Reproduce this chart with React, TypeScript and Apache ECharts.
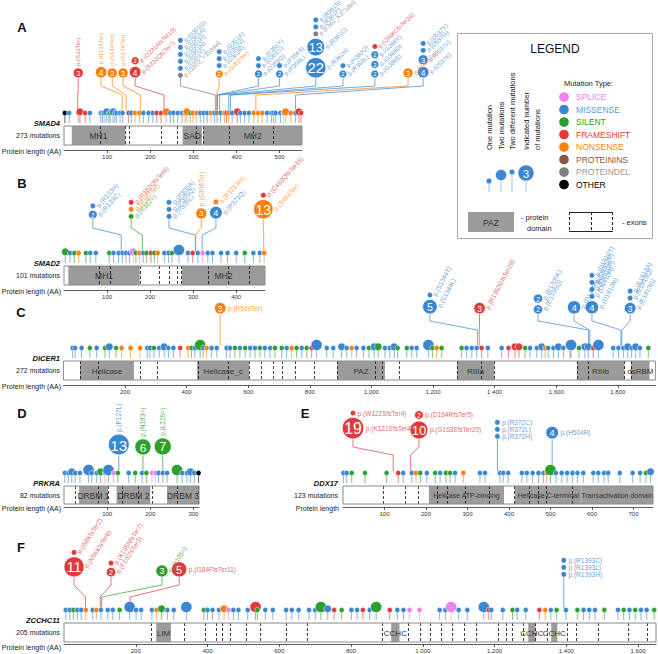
import React, { useEffect, useRef } from "react";
import * as echarts from "echarts";

type Mut = [number, number, number]; // position (AA), type index, count
type HotItem = [number, number, string]; // type index, count, label
type Hot = { target: number; items: HotItem[] };
type Dom = [string, number, number];

const TYPE_NAMES = ["SPLICE", "MISSENSE", "SILENT", "FRAMESHIFT", "NONSENSE", "PROTEININS", "PROTEINDEL", "OTHER"];
const TYPE_COLORS = ["#ee82ee", "#3a86d0", "#2ca02c", "#e03a3e", "#ff7f0e", "#8c564b", "#7f7f7f", "#000000"];
const LEGEND_TEXT_COLORS = ["#ee82ee", "#5d9bd8", "#2ca02c", "#e03a3e", "#ff7f0e", "#8c564b", "#9a9a9a", "#000000"];

// ---------- A: SMAD4 ----------
const smad4Length = 552;
const smad4Count = 273;
const smad4Domains: Dom[] = [["MH1", 18, 142], ["SAD", 275, 320], ["MH2", 323, 552]];
const smad4Exons = [84, 142, 151, 226, 263, 306, 322, 382, 439, 485];
const smad4Row: Mut[] = [
  [2, 7, 1], [12, 1, 1], [33, 6, 1], [37, 3, 2], [49, 3, 1], [60, 1, 1], [85, 1, 1], [89, 1, 1], [93, 1, 1], [99, 1, 2],
  [104, 1, 1], [107, 2, 1], [114, 1, 2], [118, 1, 1], [122, 1, 1], [130, 1, 1], [136, 1, 1], [150, 5, 1], [156, 1, 1],
  [165, 4, 1], [175, 4, 1], [184, 1, 1], [196, 1, 1], [206, 1, 1], [215, 3, 1], [225, 3, 1], [237, 4, 2], [247, 1, 1],
  [254, 1, 1], [264, 1, 1], [274, 1, 1], [281, 4, 1], [285, 4, 2], [293, 2, 1], [299, 4, 1], [308, 4, 1], [316, 1, 1],
  [324, 1, 1], [332, 1, 1], [341, 4, 1], [349, 1, 1], [355, 6, 1], [363, 1, 1], [372, 4, 1], [377, 3, 1], [382, 4, 1],
  [390, 1, 1], [402, 3, 2], [409, 1, 1], [419, 1, 1], [429, 1, 1], [440, 4, 1], [450, 4, 1], [460, 4, 1], [471, 1, 1],
  [481, 1, 1], [486, 1, 1], [491, 1, 1], [502, 1, 1], [509, 0, 1], [514, 4, 2], [526, 4, 1], [537, 1, 1], [545, 3, 2], [550, 3, 1],
];
const smad4Hot: Hot[] = [
  { target: 32, items: [[3, 3, "p.(S32Ter)"]] },
  { target: 135, items: [[4, 4, "p.(R135Ter)"]] },
  { target: 144, items: [[4, 3, "p.(S144Ter)"]] },
  { target: 178, items: [[4, 3, "p.(S178Ter)"]] },
  { target: 232, items: [[3, 2, "p.(G231AfsTer10)"], [3, 4, "p.(S232QfsTer7)"]] },
  { target: 351, items: [[1, 1, "p.(D351G)"], [1, 1, "p.(D351A)"], [1, 1, "p.(D351H)"], [1, 1, "p.(D351N)"], [1, 1, "p.(D351Y)"], [6, 1, "p.(G352_Y353del)"]] },
  { target: 353, items: [[1, 1, "p.(G352A)"], [1, 1, "p.(G352V)"], [1, 1, "p.(G352R)"], [4, 2, "p.(G352Ter)"]] },
  { target: 355, items: [[1, 1, "p.(D355Y)"], [1, 1, "p.(D355V)"], [1, 2, "p.(D355G)"]] },
  { target: 356, items: [[1, 1, "p.(P356S)"], [1, 2, "p.(P356L)"]] },
  { target: 361, items: [[1, 1, "p.(R361S)"], [1, 1, "p.(R361P)"], [6, 1, "p.(F362_K371del)"], [1, 13, "p.(R361C)"], [1, 22, "p.(R361H)"]] },
  { target: 382, items: [[1, 1, "p.(H382Q)"], [1, 2, "p.(R382L)"]] },
  { target: 386, items: [[3, 1, "p.(Q386CfsTer28)"], [1, 2, "p.(G386V)"], [1, 2, "p.(G386D)"], [1, 2, "p.(G386S)"]] },
  { target: 445, items: [[4, 3, "p.(R445Ter)"]] },
  { target: 537, items: [[1, 1, "p.(D537Y)"], [1, 1, "p.(D537G)"], [1, 3, "p.(D537V)"], [1, 4, "p.(D537E)"]] },
];

// ---------- B: SMAD2 ----------
const smad2Length = 467;
const smad2Count = 101;
const smad2Domains: Dom[] = [["MH1", 10, 176], ["MH2", 274, 467]];
const smad2Exons = [82, 108, 177, 221, 245, 263, 271, 334, 381, 430];
const smad2Row: Mut[] = [
  [3, 2, 2], [14, 1, 1], [24, 2, 1], [34, 4, 1], [51, 2, 1], [61, 1, 1], [74, 1, 1], [105, 2, 1], [115, 1, 1], [127, 1, 1],
  [136, 1, 1], [144, 1, 1], [152, 1, 1], [161, 0, 2], [167, 2, 1], [175, 4, 1], [184, 1, 1], [192, 2, 1], [202, 3, 1],
  [210, 2, 1], [218, 4, 1], [233, 1, 1], [243, 1, 1], [251, 2, 1], [267, 1, 3], [288, 1, 1], [299, 3, 1], [311, 1, 1],
  [322, 0, 1], [334, 1, 1], [345, 1, 1], [365, 1, 1], [380, 1, 1], [400, 1, 1], [420, 2, 1], [440, 1, 1], [455, 1, 1], [465, 4, 1],
];
const smad2Hot: Hot[] = [
  { target: 133, items: [[1, 1, "p.(R133H)"], [1, 2, "p.(R133C)"]] },
  { target: 182, items: [[3, 1, "p.(R182QfsTer6)"], [4, 1, "p.(R182Ter)"], [2, 1, "p.(R182=)"]] },
  { target: 305, items: [[1, 1, "p.(P305A)"], [1, 1, "p.(P305Q)"], [1, 1, "p.(P305L)"]] },
  { target: 306, items: [[4, 3, "p.(S306Ter)"]] },
  { target: 321, items: [[4, 1, "p.(R321Ter)"], [1, 4, "p.(R321Q)"]] },
  { target: 464, items: [[3, 1, "p.(C463QfsTer16)"], [4, 13, "p.(S464Ter)"]] },
];

// ---------- C: DICER1 ----------
const dicer1Length = 1922;
const dicer1Count = 272;
const dicer1Domains: Dom[] = [["Helicase", 54, 229], ["Helicase_c", 434, 603], ["PAZ", 889, 1044], ["RIIIa", 1278, 1398], ["RIIIb", 1667, 1821], ["dsRBM", 1843, 1903]];
const dicer1Exons = [54, 112, 249, 304, 437, 534, 603, 641, 680, 710, 752, 814, 889, 1012, 1035, 1090, 1278, 1356, 1398, 1667, 1703, 1821, 1843];
const dicer1Row: Mut[] = [
  [30, 1, 1], [38, 1, 1], [59, 1, 1], [86, 2, 1], [108, 1, 1], [135, 2, 1], [149, 1, 2], [171, 2, 1], [189, 4, 1], [218, 4, 1],
  [249, 4, 1], [272, 1, 1], [281, 1, 1], [294, 2, 1], [311, 1, 1], [327, 1, 2], [341, 1, 1], [357, 1, 1], [379, 3, 1], [405, 4, 1],
  [416, 2, 1], [427, 1, 1], [444, 2, 3], [454, 1, 1], [465, 4, 1], [481, 1, 1], [498, 1, 1], [530, 1, 1], [541, 1, 1], [557, 2, 1],
  [573, 1, 1], [590, 2, 1], [606, 1, 1], [622, 1, 1], [638, 2, 1], [654, 1, 1], [671, 1, 1], [687, 2, 1], [709, 2, 1], [725, 1, 1],
  [741, 4, 1], [757, 2, 1], [774, 1, 1], [790, 2, 1], [806, 3, 1], [822, 1, 3], [855, 1, 1], [876, 1, 1], [903, 1, 2], [920, 1, 1],
  [936, 4, 1], [952, 1, 1], [974, 1, 1], [992, 2, 1], [1009, 1, 2], [1022, 2, 2], [1044, 1, 1], [1060, 1, 1], [1074, 1, 2], [1085, 2, 1],
  [1115, 2, 1], [1131, 1, 1], [1147, 1, 1], [1185, 1, 3], [1198, 2, 1], [1212, 4, 1], [1228, 2, 1], [1293, 2, 1], [1309, 1, 1], [1326, 1, 1],
  [1342, 1, 1], [1358, 3, 1], [1378, 1, 1], [1423, 1, 1], [1445, 3, 1], [1466, 3, 2], [1479, 3, 2], [1499, 2, 1], [1515, 1, 1], [1537, 1, 1],
  [1553, 1, 2], [1564, 4, 1], [1574, 1, 1], [1591, 1, 1], [1607, 1, 2], [1623, 1, 1], [1645, 3, 1], [1648, 1, 3], [1674, 2, 1], [1693, 1, 2],
  [1704, 1, 2], [1720, 3, 1], [1737, 1, 3], [1785, 1, 1], [1802, 1, 1], [1818, 1, 1], [1832, 1, 2], [1845, 1, 1], [1858, 1, 2], [1872, 1, 1], [1899, 2, 1],
];
const dicer1Hot: Hot[] = [
  { target: 509, items: [[4, 3, "p.(R509Ter)"]] },
  { target: 1344, items: [[1, 1, "p.(S1344T)"], [1, 5, "p.(S1344L)"]] },
  { target: 1350, items: [[3, 3, "p.(R1350GfsTer29)"]] },
  { target: 1705, items: [[1, 2, "p.(E1705K)"], [1, 2, "p.(E1705Q)"]] },
  { target: 1709, items: [[1, 4, "p.(D1709N)"]] },
  { target: 1810, items: [[1, 1, "p.(D1810Y)"], [1, 1, "p.(D1810V)"], [1, 1, "p.(D1810A)"], [1, 1, "p.(D1810H)"], [1, 4, "p.(D1810N)"]] },
  { target: 1813, items: [[1, 1, "p.(E1813A)"], [1, 1, "p.(E1813Q)"], [1, 3, "p.(E1813G)"]] },
];

// ---------- D: PRKRA ----------
const prkraLength = 313;
const prkraCount = 82;
const prkraDomains: Dom[] = [["DRBM 1", 35, 102], ["DRBM 2", 122, 200], ["DRBM 3", 239, 313]];
const prkraExons = [26, 79, 102, 135, 172, 204, 263, 311];
const prkraRow: Mut[] = [
  [2, 1, 1], [10, 1, 1], [18, 1, 2], [26, 1, 1], [37, 1, 1], [57, 1, 3], [64, 1, 1], [76, 1, 1], [85, 2, 2], [95, 0, 1],
  [103, 1, 3], [115, 0, 1], [125, 2, 1], [150, 1, 1], [165, 2, 1], [181, 1, 1], [191, 2, 1], [204, 0, 1], [212, 0, 1],
  [219, 1, 1], [229, 1, 1], [239, 1, 1], [262, 2, 3], [274, 1, 1], [285, 1, 1], [293, 1, 2], [302, 1, 1], [312, 7, 1],
];
const prkraHot: Hot[] = [
  { target: 127, items: [[1, 13, "p.(P127L)"]] },
  { target: 183, items: [[2, 6, "p.(N183=)"]] },
  { target: 229, items: [[2, 7, "p.(L229=)"]] },
];

// ---------- E: DDX17 ----------
const ddx17Length = 747;
const ddx17Count = 123;
const ddx17Domains: Dom[] = [["Helicase ATP-binding", 207, 388], ["Helicase C-terminal", 414, 575], ["Transactivation domain", 575, 747]];
const ddx17Exons = [96, 149, 181, 226, 250, 294, 352, 412, 448, 470, 490, 552];
const ddx17Row: Mut[] = [
  [1, 1, 1], [9, 1, 1], [21, 2, 1], [53, 2, 1], [105, 2, 1], [133, 3, 1], [145, 1, 1], [166, 1, 1], [176, 4, 1], [186, 2, 1],
  [202, 1, 1], [222, 2, 1], [234, 1, 1], [248, 2, 1], [258, 2, 1], [270, 1, 1], [290, 4, 1], [330, 1, 1], [342, 1, 1], [378, 1, 1],
  [386, 1, 1], [398, 1, 1], [431, 1, 1], [443, 1, 1], [457, 1, 1], [471, 1, 1], [483, 1, 1], [491, 4, 1], [500, 2, 3], [513, 1, 1],
  [527, 1, 1], [540, 1, 1], [553, 1, 1], [565, 1, 1], [579, 1, 1], [603, 1, 1], [615, 1, 1], [629, 1, 1], [639, 1, 1], [667, 1, 1],
  [698, 1, 1], [716, 1, 1], [730, 2, 1], [741, 1, 2],
];
const ddx17Hot: Hot[] = [
  { target: 121, items: [[3, 1, "p.(W122SfsTer4)"], [3, 19, "p.(K121SfsTer4)"]] },
  { target: 163, items: [[3, 2, "p.(D164RfsTer5)"], [3, 10, "p.(G163EfsTer20)"]] },
  { target: 372, items: [[1, 1, "p.(R372C)"], [1, 1, "p.(R372L)"], [1, 1, "p.(R372H)"]] },
  { target: 504, items: [[1, 4, "p.(H504R)"]] },
];

// ---------- F: ZCCHC11 ----------
const zcchc11Length = 1650;
const zcchc11Count = 205;
const zcchc11Domains: Dom[] = [["LIM", 257, 298], ["CCHC", 912, 935], ["CCHC", 1294, 1314], ["CCHC", 1358, 1375]];
const zcchc11Exons = [243, 335, 393, 424, 441, 463, 508, 547, 619, 678, 887, 960, 993, 1021, 1052, 1082, 1116, 1149, 1210, 1233, 1250, 1280, 1314, 1345, 1403, 1428, 1487, 1573, 1626];
const zcchc11Row: Mut[] = [
  [5, 1, 1], [16, 1, 1], [26, 2, 1], [37, 1, 1], [48, 1, 1], [61, 4, 1], [80, 1, 1], [90, 4, 1], [103, 1, 1], [122, 1, 1],
  [136, 1, 1], [155, 2, 1], [183, 1, 3], [201, 1, 1], [215, 1, 1], [245, 1, 1], [258, 4, 1], [272, 2, 2], [288, 1, 1], [306, 1, 1],
  [341, 1, 3], [390, 2, 1], [400, 1, 1], [414, 1, 1], [432, 1, 1], [446, 4, 2], [459, 0, 1], [472, 1, 1], [486, 1, 1], [512, 1, 1],
  [534, 3, 3], [539, 2, 1], [561, 1, 1], [582, 1, 1], [619, 1, 1], [635, 1, 1], [654, 1, 1], [683, 1, 1], [700, 1, 1], [716, 2, 3],
  [735, 1, 2], [753, 3, 1], [774, 2, 1], [801, 1, 1], [817, 1, 1], [833, 3, 1], [852, 1, 1], [870, 2, 3], [908, 3, 1], [929, 1, 1],
  [946, 1, 1], [963, 0, 1], [991, 0, 1], [1047, 1, 1], [1063, 1, 1], [1079, 0, 3], [1100, 1, 1], [1124, 1, 1], [1170, 1, 3], [1184, 3, 1],
  [1191, 1, 1], [1223, 1, 1], [1250, 2, 1], [1263, 1, 1], [1287, 1, 1], [1325, 3, 1], [1341, 4, 1], [1357, 1, 1], [1373, 2, 1], [1399, 1, 1],
  [1431, 2, 1], [1448, 1, 1], [1464, 1, 1], [1480, 1, 1], [1506, 2, 1], [1544, 1, 1], [1560, 2, 1], [1576, 1, 1], [1592, 2, 1], [1608, 1, 1],
  [1624, 1, 1], [1645, 2, 1],
];
const zcchc11Hot: Hot[] = [
  { target: 60, items: [[3, 1, "p.(I58KfsTer2)"], [3, 11, "p.(N56KfsTer6)"]] },
  { target: 101, items: [[3, 1, "p.(K105NfsTer7)"], [3, 2, "p.(F101fsTer3)"]] },
  { target: 105, items: [[2, 3, "p.(P105=)"]] },
  { target: 184, items: [[3, 5, "p.(I184FfsTer11)"]] },
  { target: 1393, items: [[1, 1, "p.(R1393C)"], [1, 1, "p.(R1393L)"], [1, 1, "p.(R1393H)"]] },
];

// ---------- layout (pixels, label placement) ----------
type HotLay = { at: number; mode: "h" | "v" | "a" };
const PANELS = [
  {
    letter: "A", lx: 22, ly: 27, gene: "SMAD4", count: smad4Count, L: smad4Length, domains: smad4Domains, exons: smad4Exons, row: smad4Row, hot: smad4Hot,
    hotLayout: [
      { at: 33, mode: "v" }, { at: 86, mode: "v" }, { at: 112, mode: "v" }, { at: 137, mode: "v" }, { at: 165, mode: "a" },
      { at: 270, mode: "a" }, { at: 360, mode: "a" }, { at: 451, mode: "a" }, { at: 500, mode: "a" }, { at: 584, mode: "a" },
      { at: 647, mode: "a" }, { at: 721, mode: "a" }, { at: 798, mode: "a" }, { at: 833, mode: "a" },
    ] as HotLay[],
    x0: 64, width: 238, interval: 100, barTop: 126, barH: 19, axisY: 150, rowY: 113, hlBottom: 78, elbowA: 86, elbowB: 95,
    angle: 44, labFont: 6, hotScale: 1, domFont: 8.5, labelRight: 60, lenLabel: "Protein length (AA)",
  },
  {
    letter: "B", lx: 22, ly: 183, gene: "SMAD2", count: smad2Count, L: smad2Length, domains: smad2Domains, exons: smad2Exons, row: smad2Row, hot: smad2Hot,
    hotLayout: [
      { at: 67, mode: "a" }, { at: 156, mode: "a" }, { at: 244, mode: "a" }, { at: 319, mode: "v" }, { at: 353, mode: "a" }, { at: 463, mode: "a" },
    ] as HotLay[],
    x0: 64, width: 201, interval: 100, barTop: 266, barH: 19, axisY: 290, rowY: 253, hlBottom: 219, elbowA: 228, elbowB: 235,
    angle: 48, labFont: 6.5, hotScale: 1.1, domFont: 8.5, labelRight: 60, lenLabel: "Protein length (AA)",
  },
  {
    letter: "C", lx: 21, ly: 312, gene: "DICER1", count: dicer1Count, L: dicer1Length, domains: dicer1Domains, exons: dicer1Exons, row: dicer1Row, hot: dicer1Hot,
    hotLayout: [
      { at: 509, mode: "h" }, { at: 1190, mode: "a" }, { at: 1351, mode: "a" }, { at: 1541, mode: "a" }, { at: 1658, mode: "a" }, { at: 1716, mode: "a" }, { at: 1840, mode: "a" },
    ] as HotLay[],
    x0: 63.4, width: 592, interval: 200, barTop: 361, barH: 19, axisY: 385, rowY: 348, hlBottom: 314, elbowA: 321, elbowB: 330,
    angle: 62, labFont: 6.5, hotScale: 1.15, domFont: 8, labelRight: 60, lenLabel: "Protein length (AA)",
  },
  {
    letter: "D", lx: 22, ly: 413, gene: "PRKRA", count: prkraCount, L: prkraLength, domains: prkraDomains, exons: prkraExons, row: prkraRow, hot: prkraHot,
    hotLayout: [{ at: 127, mode: "v" }, { at: 183, mode: "v" }, { at: 229, mode: "v" }] as HotLay[],
    x0: 64, width: 135, interval: 100, barTop: 486, barH: 18, axisY: 507, rowY: 473, hlBottom: 455, elbowA: 462, elbowB: 464,
    angle: 90, labFont: 6.5, hotScale: 1.18, domFont: 8.5, labelRight: 60, lenLabel: "Protein length (AA)",
  },
  {
    letter: "E", lx: 305, ly: 413, gene: "DDX17", count: ddx17Count, L: ddx17Length, domains: ddx17Domains, exons: ddx17Exons, row: ddx17Row, hot: ddx17Hot,
    hotLayout: [{ at: 24, mode: "h" }, { at: 183, mode: "h" }, { at: 372, mode: "h" }, { at: 504, mode: "h" }] as HotLay[],
    x0: 343, width: 310, interval: 100, barTop: 486, barH: 18, axisY: 507, rowY: 473, hlBottom: 439, elbowA: 447, elbowB: 455,
    angle: 60, labFont: 6.5, hotScale: 1.1, domFont: 7, labelRight: 338, lenLabel: "Protein length",
  },
  {
    letter: "F", lx: 21, ly: 547, gene: "ZCCHC11", count: zcchc11Count, L: zcchc11Length, domains: zcchc11Domains, exons: zcchc11Exons, row: zcchc11Row, hot: zcchc11Hot,
    hotLayout: [{ at: 28, mode: "a" }, { at: 131, mode: "a" }, { at: 273, mode: "a" }, { at: 321, mode: "h" }, { at: 1393, mode: "h" }] as HotLay[],
    x0: 64, width: 592, interval: 200, barTop: 623, barH: 19, axisY: 646, rowY: 610, hlBottom: 577, elbowA: 585, elbowB: 597,
    angle: 57, labFont: 6.5, hotScale: 1.2, domFont: 8, labelRight: 60, lenLabel: "Protein length (AA)",
  },
];

const FONT = "'Liberation Sans', Arial, Helvetica, sans-serif";

function txt(x: number, y: number, text: string, o: any = {}) {
  const align = o.align || "left";
  const va = o.va || "middle";
  return {
    type: "text", x, y, rotation: o.rotation || 0, z: o.z ?? 50, z2: o.z2 ?? 10, silent: true,
    style: {
      text, fontSize: o.size || 7, fill: o.color || "#222", fontFamily: FONT, fontWeight: o.weight || "normal",
      fontStyle: o.italic ? "italic" : "normal", align, verticalAlign: va,
      opacity: o.opacity ?? 1,
    },
  };
}

function hotR(c: number, s: number) {
  if (c === 1) return 2.7;
  return Math.min(11, (2.2 + 2.6 * Math.log(c)) * s);
}
function rowR(c: number) {
  return c === 1 ? 2.6 : c === 2 ? 3.8 : 5.6;
}

function buildOption() {
  const grid: any[] = [];
  const xAxis: any[] = [];
  const yAxis: any[] = [];
  const series: any[] = [];
  const graphic: any[] = [];

  PANELS.forEach((p, i) => {
    grid.push({ left: p.x0, top: p.axisY - 140, width: p.width, height: 140 });
    xAxis.push({
      gridIndex: i, type: "value", min: 0, max: p.L, interval: p.interval,
      axisLine: { show: true, onZero: false, lineStyle: { color: "#333", width: 0.8 } },
      axisTick: { show: true, length: 3, lineStyle: { color: "#333", width: 0.8 } },
      axisLabel: { fontSize: 6, color: "#333", margin: 4, showMinLabel: false, showMaxLabel: false, fontFamily: FONT },
      splitLine: { show: false },
    });
    yAxis.push({ gridIndex: i, type: "value", min: 0, max: 1, show: false });
    const base = { type: "custom", xAxisIndex: i, yAxisIndex: i, silent: true, clip: false };

    // protein bar: white background, grey domains, dashed exon boundaries, domain names, outline
    series.push({
      ...base, z: 2, data: [[0, p.L]],
      renderItem: (_: any, api: any) => {
        const a = api.coord([api.value(0), 0])[0];
        const b = api.coord([api.value(1), 0])[0];
        return { type: "rect", shape: { x: a, y: p.barTop, width: b - a, height: p.barH }, style: { fill: "#fff" } };
      },
    });
    series.push({
      ...base, z: 3, data: p.domains.map((d) => [d[1], d[2]]),
      renderItem: (_: any, api: any) => {
        const a = api.coord([api.value(0), 0])[0];
        const b = api.coord([api.value(1), 0])[0];
        return { type: "rect", shape: { x: a, y: p.barTop, width: b - a, height: p.barH }, style: { fill: "#9b9b9b" } };
      },
    });
    series.push({
      ...base, z: 4, data: p.exons.map((e) => [e, 0]),
      renderItem: (_: any, api: any) => {
        const x = Math.round(api.coord([api.value(0), 0])[0]) + 0.5;
        return { type: "line", shape: { x1: x, y1: p.barTop, x2: x, y2: p.barTop + p.barH }, style: { stroke: "#111", lineWidth: 0.8, lineDash: [3, 2] } };
      },
    });
    series.push({
      ...base, z: 5, data: p.domains.map((d) => [d[1], d[2]]),
      renderItem: (params: any, api: any) => {
        const a = api.coord([api.value(0), 0])[0];
        const b = api.coord([api.value(1), 0])[0];
        return {
          type: "group",
          children: [txt((a + b) / 2, p.barTop + p.barH / 2 + 0.5, p.domains[params.dataIndex][0], { size: p.domFont, color: "#333333", align: "center" })],
        };
      },
    });
    series.push({
      ...base, z: 6, data: [[0, p.L]],
      renderItem: (_: any, api: any) => {
        const a = api.coord([api.value(0), 0])[0];
        const b = api.coord([api.value(1), 0])[0];
        return { type: "rect", shape: { x: a, y: p.barTop, width: b - a, height: p.barH }, style: { fill: "none", stroke: "#8a8a8a", lineWidth: 1 } };
      },
    });
    // highlighted hotspots
    series.push({
      ...base, z: 7, data: p.hot.map((h) => [h.target, 0]),
      renderItem: (params: any, api: any) => {
        const h = p.hot[params.dataIndex];
        const lay = p.hotLayout[params.dataIndex];
        const tx = api.coord([api.value(0), 0])[0];
        const ax = api.coord([lay.at, 0])[0];
        const items = h.items;
        const last = items[items.length - 1];
        const children: any[] = [];
        children.push({
          type: "polyline", z2: 0,
          shape: { points: [[ax, p.hlBottom], [ax, p.elbowA], [tx, p.elbowB], [tx, p.rowY - 2]] },
          style: { stroke: TYPE_COLORS[last[0]], fill: "none", lineWidth: 1, opacity: 0.7 },
        });
        let yb = p.hlBottom;
        for (let k = items.length - 1; k >= 0; k--) {
          const [t, c, lab] = items[k];
          const r = hotR(c, p.hotScale);
          const cy = yb - r;
          const col = TYPE_COLORS[t];
          children.push({ type: "circle", z2: 2, shape: { cx: ax, cy, r }, style: { fill: col, stroke: "#fff", lineWidth: c > 1 ? 0.8 : 0.4 } });
          if (c > 1) children.push(txt(ax, cy + 0.5, String(c), { size: r * 1.45, color: "#fff", align: "center" }));
          const fs = p.labFont;
          if (lay.mode === "h") children.push(txt(ax + r + 2, cy, lab, { size: fs, color: col, opacity: 0.8 }));
          else if (lay.mode === "v") children.push(txt(ax, cy - r - 2, lab, { size: fs, color: col, rotation: Math.PI / 2, opacity: 0.8 }));
          else children.push(txt(ax + r + 1.5, cy + 0.5, lab, { size: fs, color: col, rotation: (p.angle * Math.PI) / 180, opacity: 0.8 }));
          yb = cy - r - 1.6;
        }
        return { type: "group", children };
      },
    });
    // mutation row
    series.push({
      ...base, z: 8, data: p.row.map((m) => [m[0], m[1], m[2]]),
      renderItem: (_: any, api: any) => {
        const x = api.coord([api.value(0), 0])[0];
        const col = TYPE_COLORS[api.value(1)];
        const r = rowR(api.value(2));
        const cy = p.rowY - (r - 2.6);
        return {
          type: "group",
          children: [
            { type: "line", shape: { x1: x, y1: cy, x2: x, y2: p.rowY + 10 }, style: { stroke: col, lineWidth: 1, opacity: 0.6 } },
            { type: "circle", shape: { cx: x, cy, r }, style: { fill: col, stroke: "#fff", lineWidth: 0.5 } },
          ],
        };
      },
    });

    graphic.push(txt(p.lx, p.ly, p.letter, { size: 13, weight: "bold", color: "#111", align: "center" }));
    graphic.push(txt(p.labelRight, p.barTop - 3, p.gene, { size: 7.5, weight: "bold", italic: true, color: "#111", align: "right" }));
    graphic.push(txt(p.labelRight, p.barTop + p.barH / 2, p.count + " mutations", { size: 7, color: "#222", align: "right" }));
    graphic.push(txt(p.labelRight + 1, p.axisY + 1, p.lenLabel, { size: 7, color: "#222", align: "right" }));
  });

  // ---------- legend ----------
  const Z = 100;
  graphic.push({ type: "rect", z: Z, shape: { x: 457.5, y: 33.5, width: 195, height: 205 }, style: { fill: "#fff", stroke: "#aaa", lineWidth: 1 } });
  graphic.push(txt(555, 49, "LEGEND", { size: 12, color: "#111", align: "center", z: Z }));
  graphic.push(txt(564, 83, "Mutation Type:", { size: 7.5, color: "#222", z: Z }));
  TYPE_NAMES.forEach((n, k) => {
    const y = 97 + 12.5 * k;
    graphic.push({ type: "circle", z: Z, shape: { cx: 564, cy: y, r: 4.8 }, style: { fill: TYPE_COLORS[k] } });
    graphic.push(txt(576, y, n, { size: 8.5, color: LEGEND_TEXT_COLORS[k], z: Z }));
  });
  const rotTexts: [number, string][] = [[489, "One mutation"], [501, "Two mutations"], [512, "Two different mutations"], [526, "Indicated number"], [537, "of mutations"]];
  rotTexts.forEach(([x, t]) => graphic.push(txt(x, 150, t, { size: 7.5, color: "#222", rotation: Math.PI / 2, z: Z })));
  const stems: [number, number, number][] = [[489, 181, 2.8], [501, 175, 5.5], [512, 172, 2.8], [526, 173, 8]];
  stems.forEach(([x, y, r]) => {
    graphic.push({ type: "line", z: Z, shape: { x1: x, y1: y, x2: x, y2: 192 }, style: { stroke: "#9cc3ea", lineWidth: 1 } });
    graphic.push({ type: "circle", z: Z, shape: { cx: x, cy: y, r }, style: { fill: TYPE_COLORS[1], stroke: "#fff", lineWidth: 0.5 } });
  });
  graphic.push(txt(526, 173.5, "3", { size: 11, color: "#fff", align: "center", z: Z + 1 }));
  graphic.push({ type: "rect", z: Z, shape: { x: 468, y: 212, width: 46, height: 20 }, style: { fill: "#9b9b9b" } });
  graphic.push(txt(491, 222.5, "PAZ", { size: 8.5, color: "#333", align: "center", z: Z + 1 }));
  graphic.push(txt(521, 217, "- protein", { size: 7.5, color: "#222", z: Z }));
  graphic.push(txt(527, 228, "domain", { size: 7.5, color: "#222", z: Z }));
  graphic.push({ type: "line", z: Z, shape: { x1: 569, y1: 212.5, x2: 613, y2: 212.5 }, style: { stroke: "#222", lineWidth: 1 } });
  graphic.push({ type: "line", z: Z, shape: { x1: 569, y1: 231.5, x2: 613, y2: 231.5 }, style: { stroke: "#222", lineWidth: 1 } });
  [569.5, 591.5, 612.5].forEach((x) =>
    graphic.push({ type: "line", z: Z, shape: { x1: x, y1: 212, x2: x, y2: 232 }, style: { stroke: "#222", lineWidth: 1, lineDash: [3, 2] } })
  );
  graphic.push(txt(622, 222, "- exons", { size: 7.5, color: "#222", z: Z }));

  return {
    animation: false,
    backgroundColor: "#ffffff",
    textStyle: { fontFamily: FONT },
    grid, xAxis, yAxis, series, graphic,
  };
}

export default function App() {
  const ref = useRef<HTMLDivElement>(null);
  useEffect(() => {
    const chart = echarts.init(ref.current as HTMLDivElement, undefined, { renderer: "svg" });
    chart.setOption(buildOption() as any);
    return () => chart.dispose();
  }, []);
  return <div ref={ref} style={{ position: "fixed", left: 0, top: 0, width: 658, height: 654, background: "#fff" }} />;
}
